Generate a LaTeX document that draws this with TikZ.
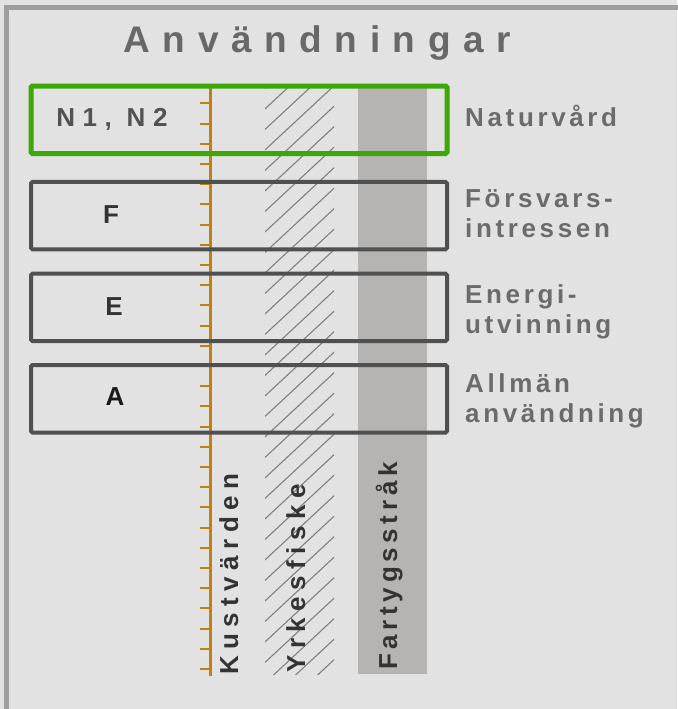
\documentclass[tikz,border=0pt]{standalone}
\usepackage{fontspec}
\setmainfont{Liberation Sans}
\newfontfamily\titlefont[LetterSpace=34]{Liberation Sans}
\newfontfamily\labfont[LetterSpace=14]{Liberation Sans}
\newfontfamily\vertfont[LetterSpace=25]{Liberation Sans}
\newfontfamily\vertfontb[LetterSpace=18]{Liberation Sans}
\newfontfamily\boxfont[LetterSpace=22]{Liberation Sans}
\newfontfamily\boxfontb[LetterSpace=29]{Liberation Sans}
\definecolor{bg}{RGB}{226,226,226}
\definecolor{framegray}{RGB}{158,158,158}
\definecolor{lanegray}{RGB}{181,180,178}
\definecolor{hatchgray}{RGB}{128,128,128}
\definecolor{coast}{RGB}{192,128,16}
\definecolor{natgreen}{RGB}{60,168,8}
\definecolor{boxgray}{RGB}{80,80,80}
\definecolor{labgray}{RGB}{107,107,107}
\definecolor{titlegray}{RGB}{104,104,104}
\definecolor{darktext}{RGB}{51,51,51}
\begin{document}
\begin{tikzpicture}[x=1pt,y=-1pt,
  usebox/.style={draw=boxgray, line width=4, rounded corners=1.5, minimum width=416, minimum height=67.5, inner sep=0, outer sep=0},
  natbox/.style={usebox, draw=natgreen, line width=5},
  boxletter/.style={font=\boxfont\bfseries\fontsize{26}{30}\selectfont, text=darktext, inner sep=0},
  rightlab/.style={font=\labfont\bfseries\fontsize{26}{30}\selectfont, text=labgray, anchor=base west, inner sep=0, align=left},
  vertlab/.style={font=\vertfont\bfseries\fontsize{26}{30}\selectfont, text=darktext, rotate=90, anchor=base west, inner sep=0},
  tick/.style={draw=coast, line width=2}
]
\useasboundingbox (0,0) rectangle (677,709);
\fill[bg] (0,0) rectangle (677,709);
\draw[framegray, line width=5] (6.5,760) -- (6.5,8) -- (760,8);
% shipping lane
\fill[lanegray] (358,86) rectangle (427,674);
% fishing hatch
\begin{scope}
  \clip (265,86) rectangle (334,674);
  \foreach \k in {-3,...,36} {
    \draw[hatchgray, line width=1.1] (262,{111.7+20.5*\k}) -- (340,{111.7+20.5*\k-72.5});
  }
\end{scope}
% coast line with ticks
\coordinate (ctop) at (210.7,86);
\coordinate (cbot) at (210.7,676);
\draw[coast, line width=2.5] (ctop) -- (cbot);
\foreach \k in {0,...,28} {
  \draw[tick] (200,{103.3+20.2*\k}) -- (210.7,{103.3+20.2*\k});
}
% boxes
\node[natbox] (N) at (239,119.75) {};
\node[usebox] (F) at (239,215.6) {};
\node[usebox] (E) at (239,307.4) {};
\node[usebox] (A) at (239,398.8) {};
\node[boxletter, font=\boxfontb\bfseries\fontsize{26}{30}\selectfont, text=darktext!85!white] (tN) at (112,119.5) {N1, N2};
\node[boxletter] (tF) at (111,214.7) {F};
\node[boxletter] (tE) at (114,307) {E};
\node[boxletter, text=black!90] (tA) at (115,397) {A};
% title
\node[font=\titlefont\bfseries\fontsize{37}{40}\selectfont, text=titlegray, anchor=base west, inner sep=0] (title) at (123.5,52.7) {Användningar};
% right labels
\node[rightlab] (lN) at (465,126) {Naturvård};
\node[rightlab] (lF1) at (465,207) {Försvars-};
\node[rightlab] (lF2) at (465,237) {intressen};
\node[rightlab] (lE1) at (465,303) {Energi-};
\node[rightlab] (lE2) at (465,333) {utvinning};
\node[rightlab] (lA1) at (465,392) {Allmän};
\node[rightlab] (lA2) at (465,422) {användning};
% vertical labels
\node[vertlab] (vK) at (238,675) {Kustvärden};
\node[vertlab] (vY) at (305,673) {Yrkesfiske};
\node[vertlab, font=\vertfontb\bfseries\fontsize{26}{30}\selectfont] (vF) at (397,670) {Fartygsstråk};
\end{tikzpicture}
\end{document}
